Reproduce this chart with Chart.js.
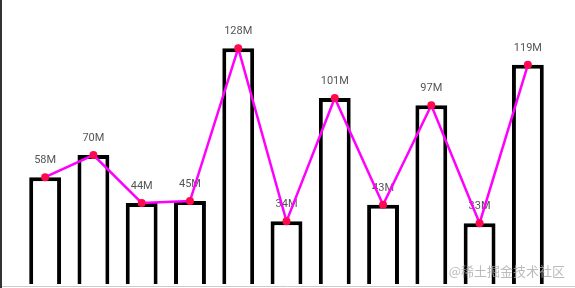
<!DOCTYPE html>
<html>
<head>
<meta charset="utf-8">
<script src="https://cdn.jsdelivr.net/npm/chart.js@4"></script>
<style>
    html, body { margin: 0; padding: 0; background: #fff; overflow: hidden; }
    #box { position: relative; width: 575px; height: 288px; }
    canvas { display: block; }
    #marca {
        position: absolute; right: 10px; top: 261px;
        font: 13px "Noto Sans CJK SC", sans-serif;
        color: rgba(170,170,170,0.8);
    }
</style>
</head>
<body>
<div id="box">
    <canvas id="grafico" width="575" height="288"></canvas>
    <div id="marca">@稀土掘金技术社区</div>
</div>
<script>
// dados
const categorias = ["A","B","C","D","E","F","G","H","I","J","K"];
const valores = [58, 70, 44, 45, 128, 34, 101, 43, 97, 33, 119];
const rotulos = valores.map(v => v + "M");

// rótulos acima das barras (desenhados antes da linha)
const pluginRotulos = {
    id: "rotulos",
    afterDatasetDraw(chart, args) {
        if (args.index !== 1) return;
        let ctx = chart.ctx;
        let meta = chart.getDatasetMeta(1);
        ctx.save();
        ctx.font = "11px Roboto, sans-serif";
        ctx.fillStyle = "#555";
        ctx.textAlign = "center";
        ctx.textBaseline = "middle";
        meta.data.forEach((bar, i) => {
            ctx.fillText(rotulos[i], bar.x, bar.y - 17);
        });
        ctx.restore();
    }
};

// linha vertical da esquerda + linha fina embaixo
const pluginEixo = {
    id: "eixo",
    afterDraw(chart) {
        let ctx = chart.ctx;
        ctx.save();
        ctx.strokeStyle = "#ccc";
        ctx.lineWidth = 1;
        ctx.beginPath();
        ctx.moveTo(0, 286.5);
        ctx.lineTo(chart.width, 286.5);
        ctx.stroke();
        ctx.strokeStyle = "#333";
        ctx.lineWidth = 2;
        ctx.beginPath();
        ctx.moveTo(1, 0);
        ctx.lineTo(1, chart.height);
        ctx.stroke();
        ctx.restore();
    }
};

new Chart(document.getElementById("grafico"), {
    data: {
        labels: categorias,
        datasets: [
            {
                type: "line",
                data: valores,
                borderColor: "#f0f",
                borderWidth: 2.5,
                pointRadius: 4,
                pointBackgroundColor: "#ff0a4e",
                pointBorderWidth: 0,
                tension: 0,
                order: 0
            },
            {
                type: "bar",
                data: valores,
                backgroundColor: "#fff",
                borderColor: "#000",
                borderWidth: 4,
                categoryPercentage: 1,
                barPercentage: 0.66,
                order: 1
            }
        ]
    },
    options: {
        responsive: false,
        animation: false,
        layout: { padding: { left: 21, right: 23, top: 0, bottom: 0 } },
        plugins: {
            legend: { display: false },
            tooltip: { enabled: false }
        },
        scales: {
            x: { display: false, offset: true },
            y: { display: false, min: 0, max: 152 }
        }
    },
    plugins: [pluginRotulos, pluginEixo]
});
</script>
</body>
</html>
